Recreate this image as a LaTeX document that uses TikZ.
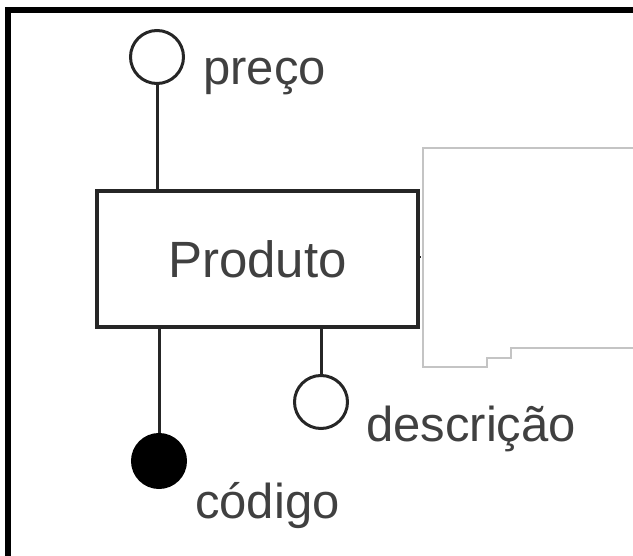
\documentclass[tikz,border=0pt]{standalone}
\usepackage{fontspec}
\setmainfont{Liberation Sans}
\definecolor{ink}{HTML}{262626}
\definecolor{txt}{HTML}{404040}
\definecolor{ghost}{HTML}{C4C4C4}
\begin{document}
\begin{tikzpicture}[x=1pt,y=-1pt,
  conn/.style={draw=ink,line width=3pt},
  attr/.style={circle,draw=ink,line width=3pt,minimum size=53pt,inner sep=0pt,fill=white},
  keyattr/.style={attr,fill=black,draw=black},
  entity/.style={draw=ink,line width=3.2pt,minimum width=321pt,minimum height=136pt,inner sep=0pt,
     font=\fontsize{51}{60}\selectfont,text=txt},
  lbl/.style={anchor=base west,inner sep=0pt,font=\fontsize{49}{60}\selectfont,text=txt}]
\useasboundingbox (0,0) rectangle (633,556);
% frame (top and left edges only)
\draw[line width=6pt,black] (8,556) -- (8,10) -- (633,10);
% faint outline at the right
\draw[ghost,line width=1.5pt] (633,148) -- (423,148) -- (423,367) -- (487,367) -- (487,358) -- (511,358) -- (511,348) -- (633,348);
% entity
\node[entity] (prod) at (257.5,259) {Produto};
\coordinate (stub) at (421,257);
\draw[conn,line width=1.5pt] (prod.east |- stub) -- (stub);
% attributes
\node[attr] (preco) at (157,57) {};
\node[attr] (desc) at (321,402) {};
\node[keyattr] (cod) at (159,461) {};
\draw[conn] (preco.south) -- (preco.south |- prod.north);
\draw[conn] (desc.north) -- (desc.north |- prod.south);
\draw[conn] (cod.north) -- (cod.north |- prod.south);
% labels
\node[lbl] (lpreco) at (203,85) {preço};
\node[lbl] (ldesc) at (366,442) {descrição};
\node[lbl] (lcod) at (195,519) {código};
\end{tikzpicture}
\end{document}
